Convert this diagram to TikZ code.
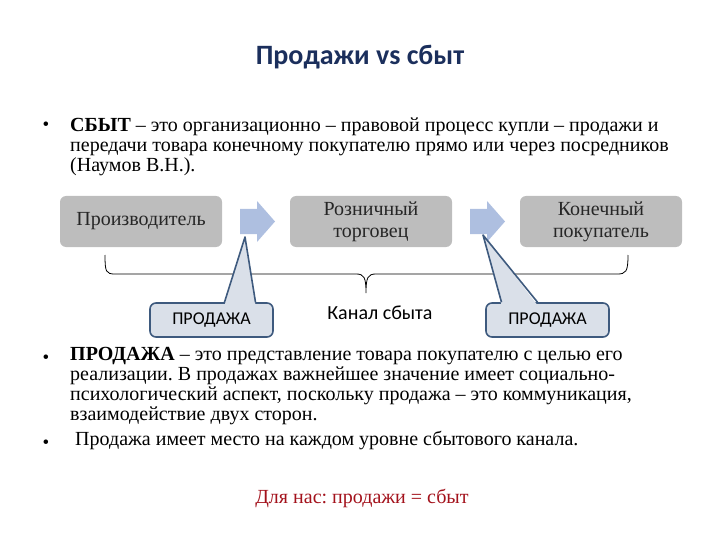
\documentclass[tikz,border=0pt]{standalone}
\usepackage{fontspec}
\setmainfont{Liberation Serif}
\newfontfamily\calibri{Carlito}
\usetikzlibrary{positioning}
\definecolor{boxgray}    {HTML}{BDBDBD}
\definecolor{arrowblue}  {HTML}{AEBFE0}
\definecolor{calloutfill}{HTML}{DAE0E9}
\definecolor{calloutline}{HTML}{3E5A7E}
\definecolor{titleblue}  {HTML}{1B2F5C}
\definecolor{notered}    {HTML}{A3121C}
\tikzset{
  stage/.style={fill=boxgray, rounded corners=6pt, minimum width=162pt, minimum height=51pt,
    align=center, inner sep=2pt, font=\fontsize{20}{22}\selectfont, text=black!85},
  callout/.style={fill=calloutfill, draw=calloutline, line width=1.6pt, rounded corners=6pt,
    minimum width=123pt, minimum height=34pt, font=\calibri\fontsize{18}{20}\selectfont},
  pointer/.style={draw=calloutline, line width=1.6pt, line join=round},
  bodytext/.style={anchor=base west, inner sep=0pt, font=\fontsize{20}{22}\selectfont},
  bulletmark/.style={anchor=base, inner sep=0pt, font=\fontsize{19}{21}\selectfont}
}
\frenchspacing

\begin{document}
\begin{tikzpicture}[x=1pt, y=-1pt]
    \useasboundingbox (0,0) rectangle (720,540);
    \node[anchor=base, font=\calibri\bfseries\fontsize{28}{30}\selectfont, text=titleblue]
      (title) at (360,65) {Продажи vs сбыт};

    % first definition
    \node[bulletmark] (dot1) at (46,131) {•};
    \foreach \t [count=\i] in
      {{\textbf{СБЫТ} – это организационно – правовой процесс купли – продажи и},
       {передачи товара конечному покупателю прямо или через посредников},
       {(Наумов В.Н.).}}
      {\node[bodytext] (def\i) at (70, 112+20*\i) {\t};}

    % channel
    \foreach \n/\x/\t in {prod/141/Производитель, retail/371/{Розничный\\торговец}, buyer/601/{Конечный\\покупатель}}
      {\node[stage] (\n) at (\x,221.5) {\t};}
    \foreach \x in {240,470}
      {\fill[arrowblue] (\x,209) -- (\x+17,209) -- (\x+17,201) -- (\x+35,221.5)
         -- (\x+17,242) -- (\x+17,234) -- (\x,234) -- cycle;}
    \draw[line width=0.8pt] (105,255) .. controls (105,272) and (106,274) .. (115,274) -- (356,274)
      .. controls (364,274) and (366,277) .. (366,293) .. controls (366,277) and (368,274) .. (376,274)
      -- (617,274) .. controls (626,274) and (628,272) .. (628,255);
    \node[font=\calibri\fontsize{20}{22}\selectfont, anchor=base] (canal) at (380,319) {Канал сбыта};

    % sale callouts
    \coordinate (tip1) at (245,237);
    \coordinate (tip2) at (483,235);
    \node[callout] (sale1) at (211.5,320) {ПРОДАЖА};
    \node[callout] (sale2) at (547.5,320) {ПРОДАЖА};
    \fill[calloutfill] ([xshift=13pt,yshift=-3pt]sale1.north) -- (tip1) -- ([xshift=44pt,yshift=-3pt]sale1.north) -- cycle;
    \draw[pointer] ([xshift=13pt]sale1.north) -- (tip1) -- ([xshift=44pt]sale1.north);
    \fill[calloutfill] ([xshift=-46pt,yshift=-3pt]sale2.north) -- (tip2) -- ([xshift=-10pt,yshift=-3pt]sale2.north) -- cycle;
    \draw[pointer] ([xshift=-46pt]sale2.north) -- (tip2) -- ([xshift=-10pt]sale2.north);

    % second definition
    \node[bulletmark] (dot2) at (46,363) {•};
    \foreach \t [count=\i] in
      {{\textbf{ПРОДАЖА} – это представление товара покупателю с целью его},
       {реализации. В продажах важнейшее значение имеет социально-},
       {психологический аспект, поскольку продажа – это коммуникация,},
       {взаимодействие двух сторон.}}
      {\node[bodytext] (descr\i) at (70, 340+20*\i) {\t};}
    \node[bulletmark] (dot3) at (46,448) {•};
    \node[bodytext] (level) at (75,445) {Продажа имеет место на каждом уровне сбытового канала.};

    \node[anchor=base, font=\fontsize{20}{22}\selectfont, text=notered] (note) at (362,503)
      {Для нас: продажи = сбыт};
\end{tikzpicture}
\end{document}
